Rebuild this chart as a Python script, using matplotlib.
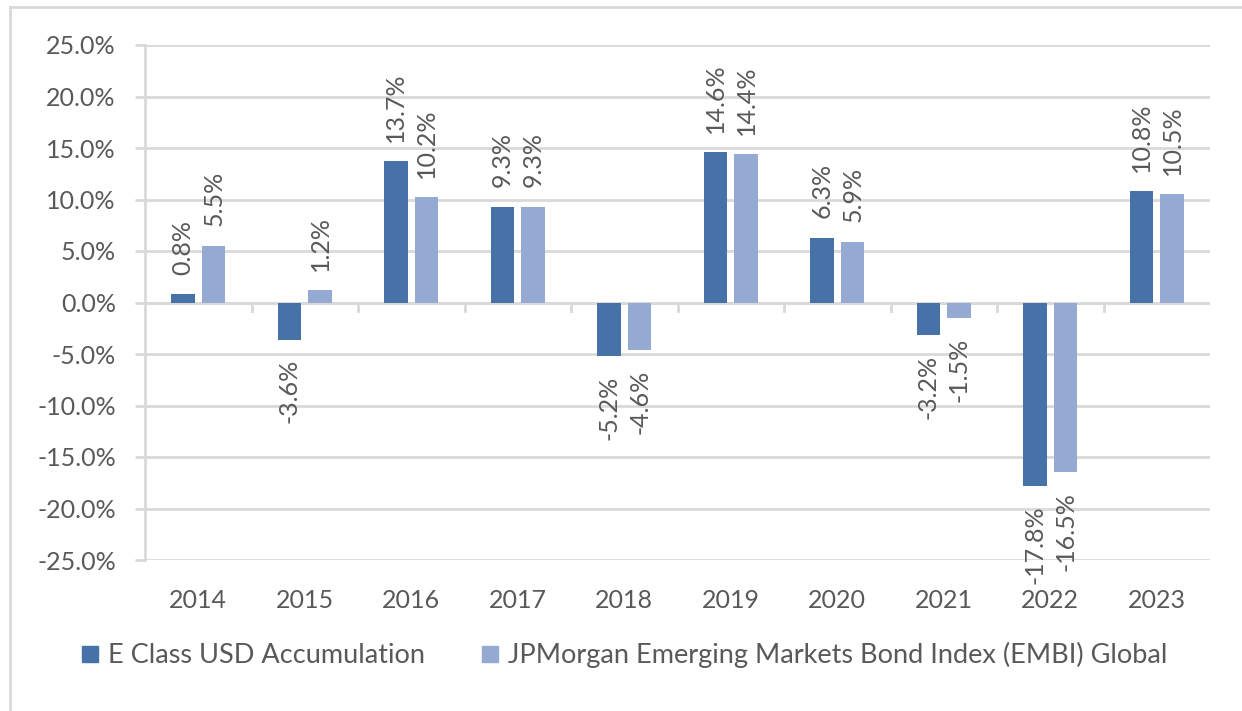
import matplotlib.pyplot as plt
import numpy as np
from matplotlib.lines import Line2D

years = ['2014', '2015', '2016', '2017', '2018', '2019', '2020', '2021', '2022', '2023']
fund = [0.8, -3.6, 13.7, 9.3, -5.2, 14.6, 6.3, -3.2, -17.8, 10.8]
index = [5.5, 1.2, 10.2, 9.3, -4.6, 14.4, 5.9, -1.5, -16.5, 10.5]
series_names = ['E Class USD Accumulation',
                'JPMorgan Emerging Markets Bond Index (EMBI) Global']

plt.rcParams['font.family'] = ['Lato', 'DejaVu Sans']
text_color = '#595959'
grid_color = '#d9d9d9'
dark = '#4672a7'
light = '#94aad2'
fs = 18

fig = plt.figure(figsize=(12.42, 7.11), dpi=100)
ax = fig.add_axes([145 / 1242, 1 - 560 / 711, (1210 - 145) / 1242, (560 - 45) / 711])

x = np.arange(len(years))
w = 0.22
off = 0.145
ax.bar(x - off, fund, w, color=dark, zorder=3)
ax.bar(x + off, index, w, color=light, zorder=3)

for xs, vals in ((x - off, fund), (x + off, index)):
    for xi, v in zip(xs, vals):
        if v >= 0:
            ax.annotate(f'{v:.1f}%', (xi, v), xytext=(0, 14), textcoords='offset points',
                        rotation=90, ha='center', va='bottom', fontsize=fs, color=text_color)
        else:
            ax.annotate(f'{v:.1f}%', (xi, v), xytext=(0, -14), textcoords='offset points',
                        rotation=90, ha='center', va='top', fontsize=fs, color=text_color)

ax.set_xlim(-0.5, len(years) - 0.5)
ax.set_ylim(-25, 25)
ax.set_yticks(np.arange(-25, 26, 5))
ax.set_yticklabels([f'{t:.1f}%' for t in np.arange(-25, 26, 5)])
ax.yaxis.grid(True, color=grid_color, linewidth=2, zorder=0)
for s in ['top', 'right', 'bottom']:
    ax.spines[s].set_visible(False)
ax.spines['left'].set_color(grid_color)
ax.spines['left'].set_linewidth(2)
ax.tick_params(axis='y', colors=grid_color, labelcolor=text_color, labelsize=fs,
               length=7, width=2, pad=14)

# category axis at zero with boundary ticks
ax.axhline(0, color=grid_color, linewidth=2, zorder=2)
ax.set_xticks([])
for b in np.arange(0.5, len(years) - 0.5, 1):
    ax.plot([b, b], [0, -0.8], color=grid_color, linewidth=2, zorder=2)
for xi, yr in zip(x, years):
    ax.annotate(yr, (xi, -25), xytext=(0, -29), textcoords='offset points',
                ha='center', va='center', fontsize=fs, color=text_color)

handles = [Line2D([], [], marker='s', linestyle='', markersize=12, color=dark),
           Line2D([], [], marker='s', linestyle='', markersize=12, color=light)]
fig.legend(handles, series_names, loc='center', bbox_to_anchor=(622 / 1242, 1 - 655 / 711),
           ncol=2, frameon=False, fontsize=19.5, labelcolor=text_color,
           handletextpad=0.15, columnspacing=1.9, handlelength=1.0)

# outer chart border (top and left visible)
fig.add_artist(Line2D([10 / 1242, 10 / 1242], [0, 1 - 7 / 711], transform=fig.transFigure,
                      color=grid_color, linewidth=2))
fig.add_artist(Line2D([10 / 1242, 1], [1 - 7 / 711, 1 - 7 / 711], transform=fig.transFigure,
                      color=grid_color, linewidth=2))

fig.savefig('out.png', dpi=100)
